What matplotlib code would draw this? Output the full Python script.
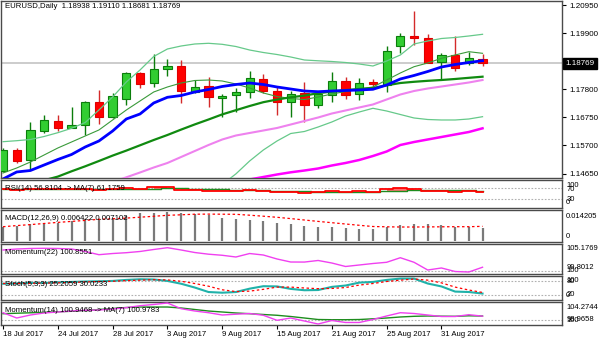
import numpy as np
import matplotlib
matplotlib.use("Agg")
import matplotlib.pyplot as plt
from matplotlib.transforms import blended_transform_factory

plt.rcParams['font.family'] = ['Liberation Sans', 'DejaVu Sans']

# ---------------- data ----------------
opens = [1.14765, 1.15531, 1.15139, 1.16260, 1.16615, 1.16372, 1.16466, 1.17336, 1.16753, 1.17437,
         1.18420, 1.18024, 1.18547, 1.18682, 1.17710, 1.17923, 1.17486, 1.17576, 1.17710, 1.18174,
         1.17747, 1.17336, 1.17650, 1.17213, 1.17598, 1.18110, 1.17624, 1.18084, 1.17960, 1.19429,
         1.19803, 1.19728, 1.18831, 1.19082, 1.18771, 1.18938]
highs = [1.15606, 1.15606, 1.16589, 1.16839, 1.16839, 1.17127, 1.17374, 1.17774, 1.17650, 1.18458,
         1.18458, 1.19119, 1.18921, 1.18895, 1.18147, 1.18248, 1.17624, 1.17860, 1.18484, 1.18372,
         1.17897, 1.17747, 1.18084, 1.17710, 1.18458, 1.18248, 1.18211, 1.18174, 1.19418, 1.19892,
         1.20726, 1.19855, 1.19145, 1.19792, 1.19205, 1.19110]
lows = [1.14709, 1.15046, 1.14784, 1.16178, 1.16253, 1.16342, 1.16092, 1.16492, 1.16716, 1.17213,
        1.17860, 1.17897, 1.18297, 1.17277, 1.17650, 1.17150, 1.16776, 1.16963, 1.17463, 1.17650,
        1.16839, 1.16776, 1.16589, 1.17090, 1.17336, 1.17426, 1.17400, 1.17875, 1.17710, 1.19167,
        1.19455, 1.18771, 1.18147, 1.18495, 1.18708, 1.18681]
closes = [1.15531, 1.15120, 1.16297, 1.16652, 1.16365, 1.16447, 1.17314, 1.16753, 1.17549, 1.18409,
          1.17987, 1.18547, 1.18682, 1.17747, 1.17897, 1.17501, 1.17561, 1.17688, 1.18211, 1.17747,
          1.17314, 1.17624, 1.17213, 1.17624, 1.18110, 1.17598, 1.18046, 1.17998, 1.19242, 1.19792,
          1.19728, 1.18794, 1.19082, 1.18585, 1.18958, 1.18769]

ma_fast = [1.14447, 1.14710, 1.14765, 1.14971, 1.15176, 1.15363, 1.15644, 1.15868, 1.16241, 1.16690,
           1.16877, 1.17288, 1.17501, 1.17568, 1.17699, 1.17793, 1.17905, 1.17979, 1.18035, 1.17979,
           1.17886, 1.17811, 1.17736, 1.17710, 1.17736, 1.17755, 1.17774, 1.17800, 1.17960, 1.18185,
           1.18316, 1.18465, 1.18633, 1.18727, 1.18802, 1.18869]
bb_mid = [1.14180, 1.14250, 1.14320, 1.14400, 1.14537, 1.14735, 1.14922, 1.15120, 1.15322, 1.15509,
          1.15707, 1.15905, 1.16092, 1.16294, 1.16488, 1.16671, 1.16862, 1.17019, 1.17175, 1.17318,
          1.17418, 1.17501, 1.17564, 1.17654, 1.17714, 1.17770, 1.17811, 1.17848, 1.17949, 1.18035,
          1.18080, 1.18117, 1.18147, 1.18185, 1.18229, 1.18271]
bb_upper = [1.15842, 1.15879, 1.15924, 1.16036, 1.16178, 1.16342, 1.16559, 1.17026, 1.17512, 1.18073,
            1.18521, 1.19026, 1.19306, 1.19418, 1.19493, 1.19519, 1.19481, 1.19399, 1.19268, 1.19175,
            1.19100, 1.19007, 1.18895, 1.18865, 1.18839, 1.18801, 1.18745, 1.18671, 1.18857, 1.19081,
            1.19493, 1.19605, 1.19698, 1.19736, 1.19792, 1.19855]
bb_lower = [1.12518, 1.12621, 1.12716, 1.12764, 1.12896, 1.13128, 1.13285, 1.13214, 1.13132, 1.12945,
            1.12893, 1.12784, 1.12878, 1.13170, 1.13483, 1.13823, 1.14243, 1.14639, 1.15120, 1.15531,
            1.15868, 1.16148, 1.16223, 1.16391, 1.16578, 1.16801, 1.16951, 1.17090, 1.16989, 1.16858,
            1.16728, 1.16671, 1.16653, 1.16653, 1.16690, 1.16776]
ma_short = [1.14672, 1.14859, 1.15083, 1.15345, 1.15606, 1.15830, 1.16055, 1.16279, 1.16653, 1.17026,
            1.17363, 1.17699, 1.17886, 1.18035, 1.18129, 1.18147, 1.18110, 1.17998, 1.17848, 1.17662,
            1.17531, 1.17456, 1.17418, 1.17512, 1.17624, 1.17717, 1.17811, 1.17886, 1.18147, 1.18409,
            1.18644, 1.18783, 1.18958, 1.19082, 1.19205, 1.19145]
ma_50 = [1.12841, 1.13027, 1.13214, 1.13401, 1.13588, 1.13775, 1.13962, 1.14149, 1.14336, 1.14511,
         1.14691, 1.14877, 1.15046, 1.15270, 1.15494, 1.15718, 1.15924, 1.16073, 1.16167, 1.16260,
         1.16354, 1.16484, 1.16615, 1.16746, 1.16895, 1.17008, 1.17120, 1.17232, 1.17419, 1.17605,
         1.17736, 1.17830, 1.17904, 1.17979, 1.18054, 1.18147]
ma_100 = [1.12878, 1.12964, 1.13050, 1.13140, 1.13226, 1.13312, 1.13398, 1.13484, 1.13569, 1.13655,
          1.13741, 1.13827, 1.13913, 1.13999, 1.14089, 1.14175, 1.14261, 1.14343, 1.14429, 1.14522,
          1.14616, 1.14698, 1.14765, 1.14840, 1.14952, 1.15046, 1.15158, 1.15307, 1.15475, 1.15718,
          1.15830, 1.15924, 1.16017, 1.16111, 1.16204, 1.16342]

rsi = [66, 62, 67, 69, 66, 66, 69, 64, 67, 72, 68, 73, 74, 63, 64, 59, 60, 61, 64, 60,
       56, 58, 54, 57, 61, 56, 59, 58, 67, 70, 69, 59, 61, 57, 59, 56.8104]
rsi_ma = [66, 66, 66, 66, 66, 66, 67, 67, 67, 68, 68, 69, 70, 70, 69, 68, 66, 65, 64, 62,
          61, 60, 59, 58, 58, 58, 58, 58, 59, 61, 63, 64, 63, 63, 62, 61.1759]

macd_hist = [0.00700, 0.00727, 0.00813, 0.00893, 0.00893, 0.00978, 0.01064, 0.01064, 0.01144, 0.01229,
             0.01365, 0.01395, 0.014205, 0.01365, 0.01314, 0.01264, 0.01144, 0.01064, 0.01013, 0.00978,
             0.00893, 0.00813, 0.00727, 0.00692, 0.00692, 0.00642, 0.00592, 0.00592, 0.00692, 0.00778,
             0.00843, 0.00813, 0.00763, 0.00692, 0.00692, 0.006422]
macd_signal = [0.00692, 0.00748, 0.00798, 0.00853, 0.00908, 0.00958, 0.01008, 0.01064, 0.01089, 0.01124,
               0.01169, 0.01214, 0.01264, 0.01289, 0.01319, 0.01324, 0.01319, 0.01314, 0.01269, 0.01219,
               0.01164, 0.01099, 0.01028, 0.00958, 0.00893, 0.00828, 0.00763, 0.00702, 0.00687, 0.00677,
               0.00677, 0.00682, 0.00687, 0.00692, 0.00692, 0.007102]

mom22 = [104.67, 104.89, 105.00, 105.04, 105.00, 104.89, 104.34, 103.63, 103.89, 104.07,
         104.34, 104.78, 105.1769, 104.67, 104.11, 103.74, 103.50, 103.12, 103.89, 103.56,
         102.68, 102.01, 102.00, 102.35, 101.79, 101.02, 101.35, 101.68, 101.95, 102.96,
         101.95, 100.24, 100.69, 99.91, 99.8012, 100.8551]

stoch_k = [69, 70, 72.5, 72.5, 75, 77, 79, 80, 81.5, 86, 89, 88, 81.5, 69, 52, 32, 29, 32, 47, 58,
           57, 46, 40, 41, 55, 61, 74, 77, 86, 92, 92, 70, 57, 34, 32, 25.2059]
stoch_d = [70, 70, 71, 72, 73, 75, 77, 79, 80, 83, 85, 87, 86, 80, 70, 58, 42, 34, 36, 44,
           54, 54, 50, 47, 48, 52, 63, 70, 79, 85, 90, 85, 73, 54, 41, 30.0233]

mom14 = [101.82, 100.48, 101.24, 101.75, 102.00, 102.25, 102.43, 102.50, 102.76, 103.09,
         103.59, 103.90, 104.2744, 102.83, 102.25, 101.82, 101.24, 101.44, 101.62, 101.17,
         99.90, 100.48, 99.72, 98.9658, 99.85, 99.35, 99.35, 100.10, 100.99, 101.82,
         101.62, 101.24, 100.86, 100.86, 101.32, 100.9468]
mom14_ma = [101.57, 101.69, 101.80, 101.92, 102.05, 102.18, 102.38, 102.63, 102.88, 103.14,
            103.26, 103.26, 103.26, 103.01, 102.63, 102.25, 102.00, 101.75, 101.57, 101.37,
            101.17, 100.86, 100.48, 100.10, 100.05, 100.05, 100.10, 100.28, 100.48, 100.74,
            100.91, 100.99, 100.94, 100.91, 101.04, 100.9783]

date_ticks = [0, 4, 8, 12, 16, 20, 24, 28, 32]
date_labels = ["18 Jul 2017", "24 Jul 2017", "28 Jul 2017", "3 Aug 2017", "9 Aug 2017",
               "15 Aug 2017", "21 Aug 2017", "25 Aug 2017", "31 Aug 2017"]
price_ticks = [1.14650, 1.15700, 1.16750, 1.17800, 1.18850, 1.19900, 1.20950]
last_price = 1.18769

# ---------------- layout helpers ----------------
W, H = 600, 343
LEFT, RIGHT = 1, 562
fig = plt.figure(figsize=(W / 100, H / 100), dpi=100)
fig.patch.set_facecolor('white')

XLIM = (-0.146, 40.8)
FS = 5.6
RFS = 5.5
BORDER = '#4a4a4a'


def panel(top, bottom):
    ax = fig.add_axes([LEFT / W, 1 - bottom / H, (RIGHT - LEFT) / W, (bottom - top) / H])
    ax.set_xlim(*XLIM)
    ax.set_xticks([])
    ax.set_yticks([])
    for s in ax.spines.values():
        s.set_color(BORDER)
        s.set_linewidth(1.0)
    ax.set_facecolor('white')
    return ax


def right_label(ax, top, bottom, y_px, text):
    frac = (bottom - y_px) / (bottom - top)
    ax.text(1.0075, frac, text, transform=ax.transAxes, ha='left', va='center',
            fontsize=RFS, color='black', clip_on=False)


def dotted_level(ax, y):
    ax.axhline(y, color='#b0b0b0', lw=0.8, ls=(0, (1.5, 1.5)), zorder=1)


x = np.arange(len(closes))

# ---------------- main price panel ----------------
TOP0, BOT0 = 1, 177.5
ax0 = panel(TOP0, BOT0)
ax0.set_ylim(1.145037, 1.210995)
ax0.axhline(last_price, color='#c8c8c8', lw=1.3, zorder=1)

body_w = 0.6
for i in range(len(closes)):
    o, h, l, c = opens[i], highs[i], lows[i], closes[i]
    up = c >= o
    wick_col = '#0b7d0b' if up else '#d42a2a'
    face = '#32cd32' if up else '#ff0000'
    edge = '#0b7d0b' if up else '#e00000'
    ax0.vlines(i, l, h, color=wick_col, lw=1.0, zorder=3)
    ax0.bar(i, max(abs(c - o), 0.00006), bottom=min(o, c), width=body_w,
            color=face, edgecolor=edge, linewidth=0.8, zorder=4)

ax0.plot(x, ma_100, color='#ff00ff', lw=1.8, zorder=5)
ax0.plot(x, ma_50, color='#ee82ee', lw=1.5, zorder=5)
ax0.plot(x, bb_upper, color='#66c98a', lw=0.9, zorder=5)
ax0.plot(x, bb_lower, color='#66c98a', lw=0.9, zorder=5)
ax0.plot(x, ma_short, color='#3a9a3a', lw=0.8, zorder=5)
ax0.plot(x, bb_mid, color='#108a10', lw=1.6, zorder=5)
ax0.plot(x, ma_fast, color='#0000ff', lw=2.0, zorder=6)

ax0.yaxis.tick_right()
ax0.set_yticks(price_ticks)
ax0.set_yticklabels([f"{v:.5f}" for v in price_ticks])
ax0.tick_params(axis='y', length=3, width=0.8, pad=2, labelsize=5.8, colors='black')
ax0.text(1.006, last_price, f"{last_price:.5f}",
         transform=blended_transform_factory(ax0.transAxes, ax0.transData),
         ha='left', va='center', fontsize=5.8, color='white', zorder=10, clip_on=False,
         bbox=dict(boxstyle='square,pad=0.25', fc='black', ec='black'))
ax0.text(4 / (RIGHT - LEFT), 1 - 5 / (BOT0 - TOP0),
         "EURUSD,Daily  1.18938 1.19110 1.18681 1.18769",
         transform=ax0.transAxes, ha='left', va='center', fontsize=FS, color='black')

# ---------------- RSI panel ----------------
TOP1, BOT1 = 179.5, 208
ax1 = panel(TOP1, BOT1)
ax1.set_ylim(-1.8, 101.8)
dotted_level(ax1, 70)
dotted_level(ax1, 30)
rsi_a = np.array(rsi, dtype=float)
ma_a = np.array(rsi_ma, dtype=float)
ax1.fill_between(x, rsi_a, ma_a, where=ma_a >= rsi_a, step='mid', color='#9edc9e', lw=0, zorder=2)
ax1.fill_between(x, rsi_a, ma_a, where=rsi_a > ma_a, step='mid', color='#ff7070', lw=0, zorder=2)
ax1.plot(x, ma_a, color='#1e8c1e', lw=1.0, drawstyle='steps-mid', zorder=3)
ax1.plot(x, rsi_a, color='#ff0000', lw=1.3, drawstyle='steps-mid', zorder=4)
ax1.text(4 / (RIGHT - LEFT), (BOT1 - 188) / (BOT1 - TOP1), "RSI(14) 56.8104 -> MA(7) 61.1759",
         transform=ax1.transAxes, ha='left', va='center', fontsize=FS, color='black', zorder=6)
right_label(ax1, TOP1, BOT1, 185.3, "100")
right_label(ax1, TOP1, BOT1, 189.3, "70")
right_label(ax1, TOP1, BOT1, 199.5, "30")
right_label(ax1, TOP1, BOT1, 202.5, "0")

# ---------------- MACD panel ----------------
TOP2, BOT2 = 210, 241.5
ax2 = panel(TOP2, BOT2)
ax2.set_ylim(-0.0005, 0.0153)
ax2.vlines(x, 0, macd_hist, color='#7a7a7a', lw=1.6, zorder=2)
ax2.plot(x, macd_signal, color='#ff0000', lw=0.9, ls=(0, (2, 2)), zorder=3)
ax2.text(4 / (RIGHT - LEFT), (BOT2 - 218.3) / (BOT2 - TOP2), "MACD(12,26,9) 0.006422 0.007102",
         transform=ax2.transAxes, ha='left', va='center', fontsize=FS, color='black', zorder=6)
right_label(ax2, TOP2, BOT2, 216.5, "0.014205")
right_label(ax2, TOP2, BOT2, 237, "0")

# ---------------- Momentum(22) panel ----------------
TOP3, BOT3 = 243.5, 273.5
ax3 = panel(TOP3, BOT3)
ax3.set_ylim(99.469, 106.106)
dotted_level(ax3, 100)
ax3.plot(x, mom22, color='#f040f0', lw=1.0, zorder=3)
ax3.text(4 / (RIGHT - LEFT), (BOT3 - 252) / (BOT3 - TOP3), "Momentum(22) 100.8551",
         transform=ax3.transAxes, ha='left', va='center', fontsize=FS, color='black', zorder=6)
right_label(ax3, TOP3, BOT3, 248.7, "105.1769")
right_label(ax3, TOP3, BOT3, 270.5, "100")
right_label(ax3, TOP3, BOT3, 267.5, "99.8012")

# ---------------- Stochastic panel ----------------
TOP4, BOT4 = 275.5, 300
ax4 = panel(TOP4, BOT4)
ax4.set_ylim(-3.6, 105.8)
dotted_level(ax4, 80)
dotted_level(ax4, 20)
ax4.plot(x, stoch_k, color='#20b2aa', lw=1.5, zorder=3)
ax4.plot(x, stoch_d, color='#ff0000', lw=0.9, ls=(0, (2, 2)), zorder=4)
ax4.text(4 / (RIGHT - LEFT), (BOT4 - 284.3) / (BOT4 - TOP4), "Stoch(5,3,3) 25.2059 30.0233",
         transform=ax4.transAxes, ha='left', va='center', fontsize=FS, color='black', zorder=6)
right_label(ax4, TOP4, BOT4, 280.5, "100")
right_label(ax4, TOP4, BOT4, 281.5, "80")
right_label(ax4, TOP4, BOT4, 294.3, "20")
right_label(ax4, TOP4, BOT4, 295.5, "0")

# ---------------- Momentum(14) panel ----------------
TOP5, BOT5 = 302, 325
ax5 = panel(TOP5, BOT5)
ax5.set_ylim(98.713, 104.527)
dotted_level(ax5, 100)
ax5.plot(x, mom14_ma, color='#1e8c1e', lw=1.0, zorder=3)
ax5.plot(x, mom14, color='#f040f0', lw=1.0, zorder=4)
ax5.text(4 / (RIGHT - LEFT), (BOT5 - 310.3) / (BOT5 - TOP5), "Momentum(14) 100.9468 -> MA(7) 100.9783",
         transform=ax5.transAxes, ha='left', va='center', fontsize=FS, color='black', zorder=6)
right_label(ax5, TOP5, BOT5, 307.7, "104.2744")
right_label(ax5, TOP5, BOT5, 320.5, "100")
right_label(ax5, TOP5, BOT5, 319.3, "98.9658")

ax5.set_xticks(date_ticks)
ax5.set_xticklabels(date_labels)
for lbl in ax5.get_xticklabels():
    lbl.set_horizontalalignment('left')
ax5.tick_params(axis='x', length=3, width=0.8, pad=1.5, labelsize=FS, colors='black')

fig.savefig("out.png", dpi=100)
